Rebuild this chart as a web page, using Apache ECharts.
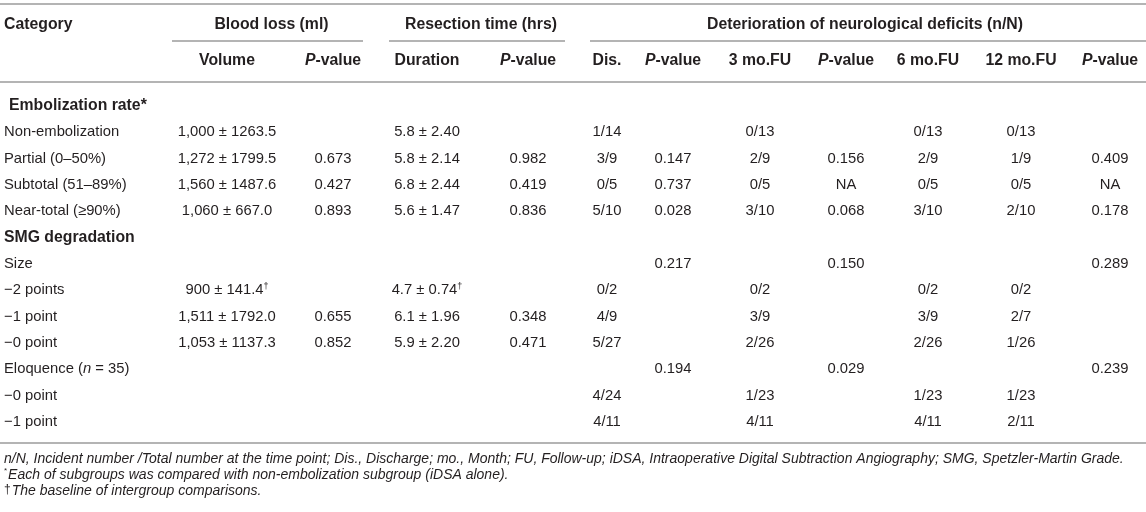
<!DOCTYPE html>
<html>
<head>
<meta charset="utf-8">
<script src="https://cdn.jsdelivr.net/npm/echarts@6/dist/echarts.min.js"></script>
<style>
  html, body { margin: 0; padding: 0; background: #fff; }
  #main { width: 1146px; height: 512px; }
</style>
</head>
<body>
<div id="main"></div>
<script>
// table rows (top to bottom)
const rowLabels = ['Embolization rate*', 'Non-embolization', 'Partial (0–50%)', 'Subtotal (51–89%)', 'Near-total (≥90%)',
  'SMG degradation', 'Size', '−2 points', '−1 point', '−0 point', 'Eloquence ({i|n} = 35)', '−0 point', '−1 point'];
const sectionRows = [0, 5];

// column values, one entry per row
const volume = ['', '1,000 ± 1263.5', '1,272 ± 1799.5', '1,560 ± 1487.6', '1,060 ± 667.0', '', '', '900 ± 141.4†', '1,511 ± 1792.0', '1,053 ± 1137.3', '', '', ''];
const pBlood = ['', '', '0.673', '0.427', '0.893', '', '', '', '0.655', '0.852', '', '', ''];
const duration = ['', '5.8 ± 2.40', '5.8 ± 2.14', '6.8 ± 2.44', '5.6 ± 1.47', '', '', '4.7 ± 0.74†', '6.1 ± 1.96', '5.9 ± 2.20', '', '', ''];
const pResection = ['', '', '0.982', '0.419', '0.836', '', '', '', '0.348', '0.471', '', '', ''];
const dis = ['', '1/14', '3/9', '0/5', '5/10', '', '', '0/2', '4/9', '5/27', '', '4/24', '4/11'];
const pDis = ['', '', '0.147', '0.737', '0.028', '', '0.217', '', '', '', '0.194', '', ''];
const fu3 = ['', '0/13', '2/9', '0/5', '3/10', '', '', '0/2', '3/9', '2/26', '', '1/23', '4/11'];
const pFu3 = ['', '', '0.156', 'NA', '0.068', '', '0.150', '', '', '', '0.029', '', ''];
const fu6 = ['', '0/13', '2/9', '0/5', '3/10', '', '', '0/2', '3/9', '2/26', '', '1/23', '4/11'];
const fu12 = ['', '0/13', '1/9', '0/5', '2/10', '', '', '0/2', '2/7', '1/26', '', '1/23', '2/11'];
const pFu12 = ['', '', '0.409', 'NA', '0.178', '', '0.289', '', '', '', '0.239', '', ''];

// header texts
const groupHeaders = ['Blood loss (ml)', 'Resection time (hrs)', 'Deterioration of neurological deficits (n/N)'];
const subHeaders = ['Volume', '{i|P}-value', 'Duration', '{i|P}-value', 'Dis.', '{i|P}-value', '3 mo.FU', '{i|P}-value', '6 mo.FU', '12 mo.FU', '{i|P}-value'];
const footnotes = [
  '{i|n/N, Incident number /Total number at the time point; Dis., Discharge; mo., Month; FU, Follow-up; iDSA, Intraoperative Digital Subtraction Angiography; SMG, Spetzler-Martin Grade.}',
  '{s|*}{i|Each of subgroups was compared with non-embolization subgroup (iDSA alone).}',
  '{d|†}{i|The baseline of intergroup comparisons.}'
];

// layout (pixels on the hidden x scale)
const W = 1146;
const colX = [227, 333, 427, 528, 607, 673, 760, 846, 928, 1021, 1110];
const groupSpan = [[172, 363], [389, 565], [590, 1146]];
const valueCols = [volume, pBlood, duration, pResection, dis, pDis, fu3, pFu3, fu6, fu12, pFu12];

const font = 'Liberation Sans, Arial, Helvetica, sans-serif';
const ink = '#231f20';
const rule = '#b4b4b4';
const bodySize = 14.8;
const headSize = 15.8;

const rich = {
  i: { fontStyle: 'italic', fontSize: bodySize, fontFamily: font, color: ink },
  sup: { fontSize: 9, fontFamily: font, color: ink, verticalAlign: 'top', padding: [0, 0, 8, 0] }
};

function cellText(s) {
  return s.replace('†', '{sup|†}');
}

function textSeries(data, align, weight, size) {
  return {
    type: 'scatter',
    symbolSize: 0,
    silent: true,
    itemStyle: { opacity: 1 },
    data: data,
    label: {
      show: true,
      position: 'inside',
      align: align,
      fontFamily: font,
      fontWeight: weight,
      fontSize: size,
      color: ink,
      opacity: 1,
      textBorderWidth: 0,
      rich: rich,
      formatter: p => cellText(p.data.text)
    }
  };
}

let series = [];
// category column: plain rows and bold section rows
series.push(textSeries(rowLabels.map((t, i) => ({ value: [4, i], text: t }))
  .filter((d, i) => !sectionRows.includes(i)), 'left', 'normal', bodySize));
series.push(textSeries(sectionRows.map(i => ({ value: [i === 0 ? 9 : 4, i], text: rowLabels[i] })),
  'left', 'bold', headSize));

valueCols.forEach((col, c) => {
  series.push(textSeries(col.map((t, i) => ({ value: [colX[c], i], text: t }))
    .filter(d => d.text !== ''), 'center', 'normal', bodySize));
});

function line(x1, y1, x2, y2) {
  return { type: 'line', silent: true, shape: { x1: x1, y1: y1, x2: x2, y2: y2 }, style: { stroke: rule, lineWidth: 2 } };
}
function text(t, x, y, align, opts) {
  return {
    type: 'text', silent: true, x: x, y: y,
    style: Object.assign({
      text: t, fill: ink, align: align, verticalAlign: 'middle',
      font: 'bold ' + headSize + 'px ' + font,
      rich: {
        i: { fontStyle: 'italic', fontWeight: 'bold', fontSize: headSize, fontFamily: font, fill: ink }
      }
    }, opts || {})
  };
}

let graphics = [
  line(0, 4, W, 4),
  line(0, 82, W, 82),
  line(0, 443, W, 443),
  text('Category', 4, 25, 'left')
];
groupSpan.forEach((s, k) => {
  graphics.push(line(s[0], 41, s[1], 41));
  graphics.push(text(groupHeaders[k], (s[0] + s[1]) / 2 + (k === 2 ? -3 : 4), 25, 'center'));
});
subHeaders.forEach((h, c) => {
  graphics.push(text(h, colX[c], 61, 'center'));
});
footnotes.forEach((f, k) => {
  graphics.push(text(f, 4, 459 + k * 16, 'left', {
    font: 'italic 14px ' + font,
    rich: {
      i: { fontStyle: 'italic', fontSize: 14, fontFamily: font, fill: ink },
      s: { fontSize: 8, fontFamily: font, fill: ink, verticalAlign: 'top', padding: [0, 1, 8, 0] },
      d: { fontSize: 12, fontFamily: font, fill: ink, padding: [0, 1, 3, 0] }
    }
  }));
});

let myChart = echarts.init(document.getElementById('main'));
let option = {
  animation: false,
  backgroundColor: '#fff',
  grid: { left: 0, right: 0, top: 92.8, height: 342.3 },
  xAxis: { type: 'value', min: 0, max: W, show: false },
  yAxis: { type: 'category', inverse: true, show: false, data: rowLabels.map((r, i) => String(i)) },
  series: series,
  graphic: graphics
};
myChart.setOption(option);
</script>
</body>
</html>
